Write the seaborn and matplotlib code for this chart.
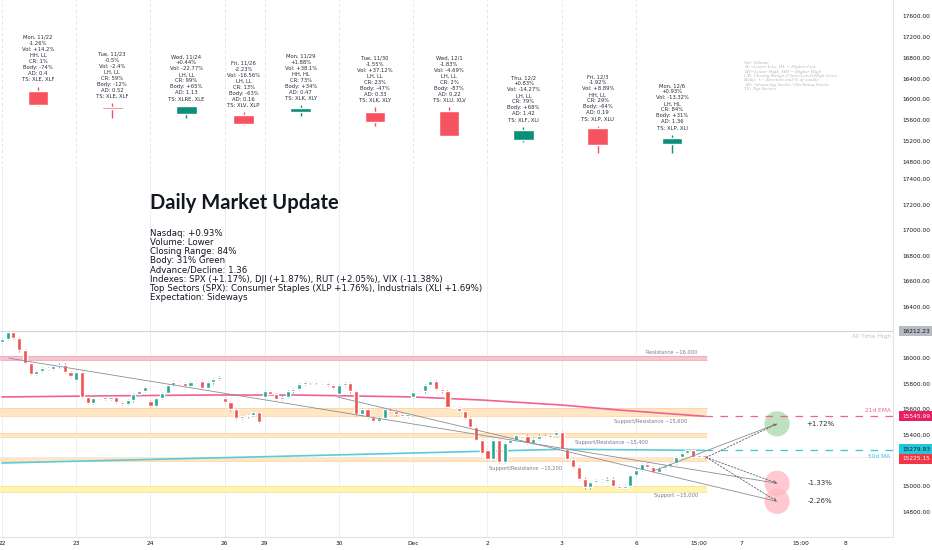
import numpy as np
import pandas as pd
import matplotlib
matplotlib.use('Agg')
import matplotlib.pyplot as plt
import seaborn as sns

# ---- daily candles + notes (top pane) ----
day_labels = ['22', '23', '24', '26', '29', '30', 'Dec', '2', '3', '6']
bars_per_day = [13, 13, 13, 7, 13, 13, 13, 13, 13, 13]
daily_open = [16152, 15838, 15714, 15695, 15752, 15752, 15771, 15219, 15447, 15143]
daily_high = [16247, 15924, 15870, 15752, 15886, 15847, 15847, 15466, 15485, 15314]
daily_low = [15880, 15638, 15638, 15505, 15676, 15485, 15290, 15181, 14971, 14971]
daily_close = [15886, 15810, 15867, 15524, 15828, 15562, 15295, 15409, 15124, 15238]
daily_notes = [
    "Mon, 11/22\n-1.26%\nVol: +14.2%\nHH, LL\nCR: 1%\nBody: -74%\nAD: 0.4\nTS: XLE, XLF",
    "Tue, 11/23\n-0.5%\nVol: -2.4%\nLH, LL\nCR: 59%\nBody: -12%\nAD: 0.52\nTS: XLE, XLF",
    "Wed, 11/24\n+0.44%\nVol: -22.77%\nLH, LL\nCR: 99%\nBody: +65%\nAD: 1.13\nTS: XLRE, XLE",
    "Fri, 11/26\n-2.23%\nVol: -16.56%\nLH, LL\nCR: 13%\nBody: -63%\nAD: 0.16\nTS: XLV, XLP",
    "Mon, 11/29\n+1.88%\nVol: +38.1%\nHH, HL\nCR: 73%\nBody: +34%\nAD: 0.47\nTS: XLK, XLY",
    "Tue, 11/30\n-1.55%\nVol: +37.12%\nLH, LL\nCR: 23%\nBody: -47%\nAD: 0.33\nTS: XLK, XLY",
    "Wed, 12/1\n-1.83%\nVol: -4.69%\nLH, LL\nCR: 2%\nBody: -87%\nAD: 0.22\nTS: XLU, XLV",
    "Thu, 12/2\n+0.83%\nVol: -14.27%\nLH, LL\nCR: 79%\nBody: +68%\nAD: 1.42\nTS: XLF, XLI",
    "Fri, 12/3\n-1.92%\nVol: +8.89%\nHH, LL\nCR: 29%\nBody: -64%\nAD: 0.19\nTS: XLP, XLU",
    "Mon, 12/6\n+0.93%\nVol: -13.32%\nLH, HL\nCR: 84%\nBody: +31%\nAD: 1.36\nTS: XLP, XLI",
]
legend_text = ("Vol: Volume\nLL=Lower Low, HL = Higher Low\nLH=Lower High, HH = Higher High\n"
               "CR: Closing Range (Close-Low)/(High-Low)\nBody: +/- direction and % of candle\n"
               "AD: Advancing Stocks / Declining Stocks\nTS: Top Sectors")

# ---- 30 min candles (bottom pane) ----
day_opens = [16130, 15830, 15665, 15690, 15700, 15720, 15700, 15280, 15420, 15090]
closes_22 = [16150, 16205, 16160, 16060, 15960, 15880, 15900, 15920, 15915, 15935, 15950, 15890, 15860]
closes_23 = [15890, 15700, 15650, 15690, 15700, 15680, 15695, 15660, 15645, 15670, 15720, 15745, 15775]
closes_24 = [15625, 15690, 15730, 15790, 15810, 15805, 15780, 15815, 15820, 15770, 15810, 15840, 15850]
closes_26 = [15660, 15600, 15530, 15545, 15555, 15580, 15500]
closes_29 = [15745, 15720, 15680, 15700, 15740, 15760, 15800, 15815, 15810, 15815, 15805, 15790, 15770]
closes_30 = [15790, 15805, 15740, 15560, 15600, 15540, 15510, 15530, 15600, 15585, 15560, 15550, 15565]
closes_d1 = [15735, 15740, 15790, 15820, 15760, 15740, 15620, 15610, 15590, 15535, 15460, 15360, 15260]
closes_d2 = [15210, 15360, 15190, 15340, 15360, 15400, 15395, 15340, 15370, 15395, 15385, 15400, 15420]
closes_d3 = [15290, 15210, 15150, 15060, 14990, 15030, 15050, 15040, 15060, 15000, 14985, 15000, 15090]
closes_d6 = [15130, 15170, 15150, 15110, 15140, 15160, 15180, 15230, 15260, 15280, 15230, 15245, 15225]
day_closes = [closes_22, closes_23, closes_24, closes_26, closes_29, closes_30,
              closes_d1, closes_d2, closes_d3, closes_d6]

# moving averages read at a few bars
ema_bars = [0, 17, 35, 52, 72, 84, 98, 108, 123]
ema_vals = [15697, 15705, 15712, 15712, 15697, 15673, 15634, 15595, 15546]
ma_bars = [0, 52, 98, 123]
ma_vals = [15181, 15237, 15288, 15280]

ath = 16212.23
ema_last = 15545.99
ma_last = 15279.93
last_close = 15225.15

band_lo = [15985, 15548, 15384, 15197, 14955]
band_hi = [16020, 15611, 15416, 15228, 15002]
band_names = ['Resistance ~16,000', 'Support/Resistance ~15,600', 'Support/Resistance ~15,400',
              'Support/Resistance ~15,200', 'Support ~15,000']
scenario_pct = [1.72, -1.33, -2.26]

future_ticks = [122, 129.4, 139.8, 147.6]
future_labels = ['15:00', '7', '15:00', '8']

# ---- build ----
opens, closes = [], []
for o0, cl in zip(day_opens, day_closes):
    prev = o0
    for c in cl:
        opens.append(prev)
        closes.append(c)
        prev = c
df = pd.DataFrame({'open': opens, 'close': closes})
df['bar'] = np.arange(len(df))
day_starts = np.concatenate([[0], np.cumsum(bars_per_day)[:-1]])
day_mid = day_starts + (np.array(bars_per_day) - 1) / 2 + 0.3
last_bar = len(df) - 1

UP, DOWN = '#26a69a', '#ef5350'
UP_D, DOWN_D = '#0b8f7a', '#f7525f'
GRID = '#eceff5'

sns.set_theme(style='white')
plt.rcParams['font.family'] = ['DejaVu Sans']

W, H = 932, 550
fig = plt.figure(figsize=(W / 100, H / 100), dpi=100)
ax_top = fig.add_axes([0, 1 - 170 / H, 893 / W, 170 / H])
ax = fig.add_axes([0, 1 - 537 / H, 893 / W, (537 - 170) / H], sharex=ax_top)
xmin, xmax = -0.35, 156.0

for a in (ax_top, ax):
    for s in ('top', 'left'):
        a.spines[s].set_visible(False)
    for s in ('right', 'bottom'):
        a.spines[s].set_color('#e0e3eb')
        a.spines[s].set_linewidth(0.8)
    a.yaxis.tick_right()
    a.tick_params(axis='y', labelsize=4.2, length=0, pad=6.5, colors='#131722')

# top pane: daily candles
for xs in day_starts:
    ax_top.axvline(xs, color='#dfe2ea', lw=0.6, ls=(0, (4, 3)), zorder=0)
dcol = [UP_D if c >= o else DOWN_D for o, c in zip(daily_open, daily_close)]
ax_top.vlines(day_mid, daily_low, daily_high, color=dcol, lw=1.0, zorder=2)
ax_top.bar(day_mid, np.abs(np.array(daily_close) - np.array(daily_open)) + 14,
           bottom=np.minimum(daily_open, daily_close), width=3.6, color=dcol, zorder=3)
for xc, hi, note in zip(day_mid, daily_high, daily_notes):
    ax_top.annotate(note, xy=(xc, hi), xytext=(0, 3.5), textcoords='offset points',
                    ha='center', va='bottom', fontsize=3.8, linespacing=1.25, color='#2a2e39')
ax_top.set_ylim(14648, 17905)
ax_top.set_yticks(np.arange(14800, 17601, 400))
ax_top.set_yticklabels([f'{v:.2f}' for v in np.arange(14800, 17601, 400)])
ax_top.tick_params(axis='x', bottom=False, labelbottom=False)
fig.text(744 / W, 1 - 61 / H, legend_text, ha='left', va='top', fontsize=3.7, linespacing=1.1,
         family='Liberation Serif', style='italic', color='#b4b6bc')

# bottom pane
for xs in day_starts:
    ax.axvline(xs, color=GRID, lw=0.7, zorder=0)
band_end = last_bar + 0.5
for lo, hi, name in zip(band_lo, band_hi, band_names):
    if name.startswith('Resistance'):
        fc, ec = '#f8c4cf', '#f2a7b6'
    elif name.startswith('Support ~'):
        fc, ec = '#fff3b0', '#ffe08a'
    else:
        fc, ec = '#ffe6c4', '#ffd49e'
    ax.fill_between([xmin, band_end], lo, hi, color=fc, lw=0, zorder=1)
    ax.hlines([lo, hi], xmin, band_end, color=ec, lw=0.6, zorder=1)

label_pos = [(117.2, 16048), (113.5, 15509), (106.8, 15345), (91.6, 15142), (118.0, 14931)]
for (lx, ly), name in zip(label_pos, band_names):
    ax.text(lx, ly, name, ha='center', va='center', fontsize=3.7, color='#787b86', zorder=6)

ax.axhline(ath, color='#d1d4dc', lw=0.8, zorder=1)
ax.axhline(last_close, color='#eceef2', lw=0.6, zorder=1)
ax.text(155.6, ath - 45, 'All Time High', ha='right', va='center', fontsize=4.2, color='#c0c3ca')

sns.lineplot(x=ema_bars, y=ema_vals, ax=ax, color='#f06292', lw=1.2, zorder=3)
sns.lineplot(x=ma_bars, y=ma_vals, ax=ax, color='#5ccbd9', lw=1.2, zorder=3)
ax.hlines(ema_last, last_bar, xmax, color='#f06292', lw=0.9, ls=(0, (6, 6)), zorder=3)
ax.hlines(ma_last, last_bar, xmax, color='#3fc4d6', lw=0.9, ls=(0, (6, 6)), zorder=3)
ax.text(155.6, ema_last + 45, '21d EMA', ha='right', va='center', fontsize=4.2, color='#f06292')
ax.text(155.6, ma_last - 45, '50d MA', ha='right', va='center', fontsize=4.2, color='#3fc4d6')

# candles
up = df['close'] >= df['open']
cols = np.where(up, UP, DOWN)
body_lo = np.minimum(df['open'], df['close'])
body_hi = np.maximum(df['open'], df['close'])
ax.vlines(df['bar'], body_lo - 9, body_hi + 9, color=cols, lw=0.6, zorder=4)
ax.bar(df['bar'], np.maximum(body_hi - body_lo, 8), bottom=body_lo, width=0.72, color=cols, zorder=5)

# scenarios
target_bar = 135.7
targets = [last_close * (1 + p / 100) for p in scenario_pct]
circ = pd.DataFrame({'bar': [target_bar] * 3, 'price': targets,
                     'kind': ['up', 'down', 'down']})
sns.scatterplot(data=circ, x='bar', y='price', hue='kind', palette={'up': '#a9d8aa', 'down': '#ffb8bf'},
                s=330, alpha=0.75, edgecolor='none', legend=False, ax=ax, zorder=2)
trend_start = [(1.2, 16000, targets[1]), (58.7, 15697, targets[2]), (114.4, 15125, targets[0])]
for x0, y0, y1 in trend_start:
    ax.plot([x0, target_bar], [y0, y1], color='#8a8d96', lw=0.6, zorder=6)
for t in targets:
    ax.annotate('', xy=(target_bar, t), xytext=(last_bar + 0.3, last_close),
                arrowprops=dict(arrowstyle='->', ls=(0, (2, 2)), color='#5d606b', lw=0.6,
                                shrinkA=0, shrinkB=0, mutation_scale=5), zorder=6)
for t, p in zip(targets, scenario_pct):
    ax.text(143.3, t, f'{p:+.2f}%', ha='center', va='center', fontsize=5, color='#2a2e39')

ax.set_xlim(xmin, xmax)
ax.set_ylim(14603, 17470)
yt = [14800, 15000, 15400, 15600, 15800, 16000, 16400, 16600, 16800, 17000, 17200, 17400]
ax.set_yticks(yt)
ax.set_yticklabels([f'{v:.2f}' for v in yt])
ax.set_xticks(list(day_starts) + future_ticks)
ax.set_xticklabels(day_labels + future_labels)
ax.tick_params(axis='x', labelsize=4.2, length=0, pad=3, colors='#131722')
ax.set_xlabel('')
ax.set_ylabel('')
ax_top.set_ylabel('')

# price tags on the right scale
def price_tag(y, text, fc, tc):
    ax.annotate(text, xy=(1.0, y), xycoords=('axes fraction', 'data'), xytext=(6.5, 0),
                textcoords='offset points', ha='left', va='center', fontsize=4.2, color=tc,
                bbox=dict(boxstyle='square,pad=0.45', fc=fc, ec='none'), annotation_clip=False)

price_tag(ath, f'{ath:.2f}', '#b8bbc2', '#131722')
price_tag(ema_last, f'{ema_last:.2f}', '#e91e63', 'white')
price_tag(ma_last + 10, f'{ma_last:.2f}', '#26c6da', '#131722')
price_tag(last_close - 10, f'{last_close:.2f}', '#f23645', 'white')

# headline block
fig.text(150 / W, 1 - 203 / H, 'Daily Market Update', ha='left', va='center',
         fontsize=14.5, fontweight='bold', family='Lato', color='#131722')
body = ("Nasdaq: +0.93%\nVolume: Lower\nClosing Range: 84%\nBody: 31% Green\nAdvance/Decline: 1.36\n"
        "Indexes: SPX (+1.17%), DJI (+1.87%), RUT (+2.05%), VIX (-11.38%)\n"
        "Top Sectors (SPX): Consumer Staples (XLP +1.76%), Industrials (XLI +1.69%)\n"
        "Expectation: Sideways")
fig.text(150 / W, 1 - 229 / H, body, ha='left', va='top', fontsize=6.2, linespacing=1.02,
         color='#131722')

fig.savefig('out.png', dpi=100, facecolor='white')
